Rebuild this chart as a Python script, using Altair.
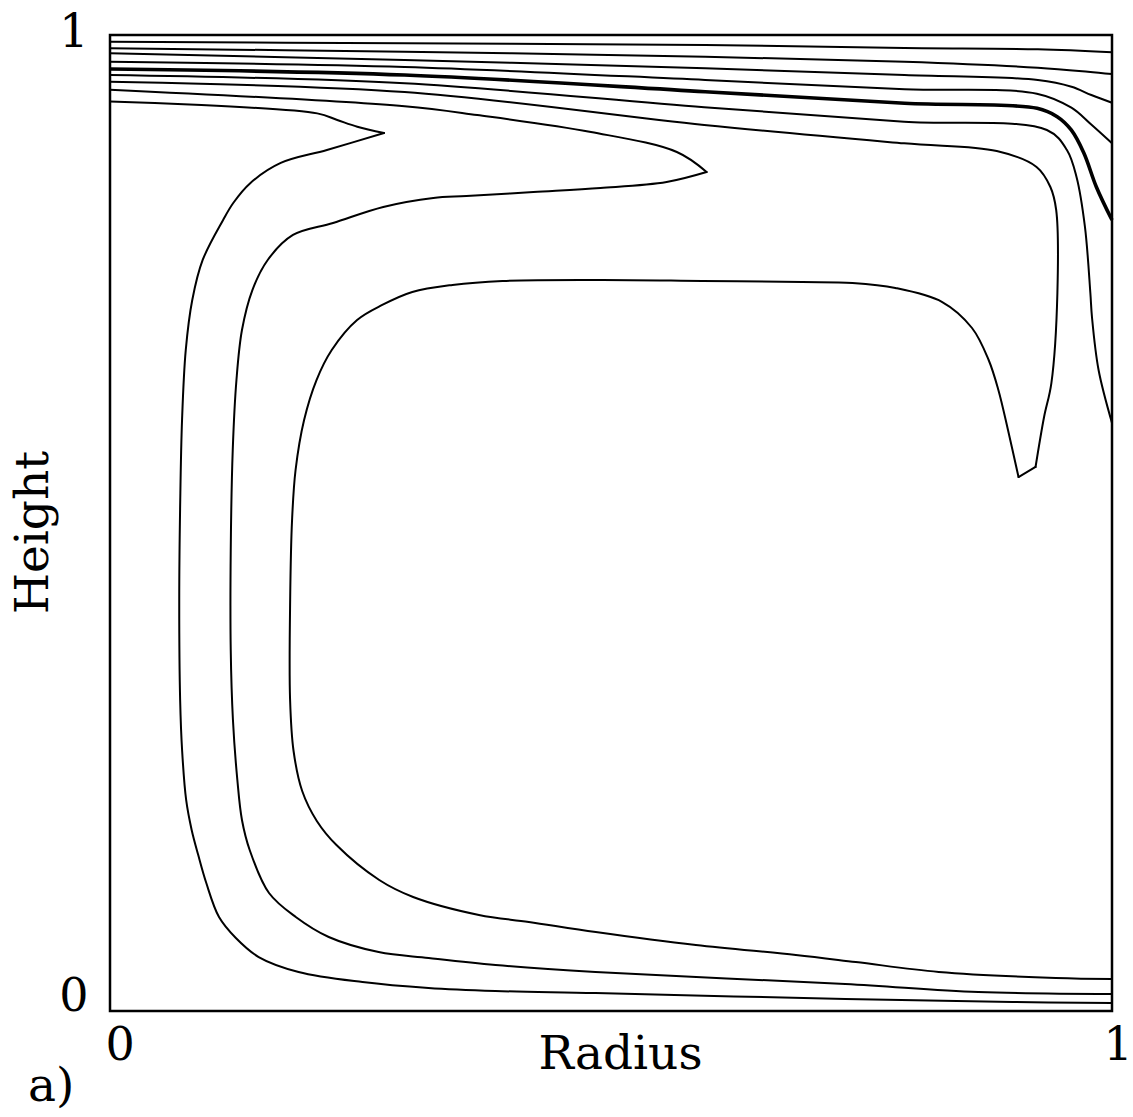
import altair as alt
import pandas as pd

# ---- contour lines (Radius, Height in 0..1) ----
L1_x = [0, 0.294, 0.594, 0.793, 0.926, 1.0]
L1_y = [0.9931, 0.9915, 0.9898, 0.9867, 0.9853, 0.9823]

L2_x = [0, 0.294, 0.594, 0.793, 0.926, 0.976, 1.0]
L2_y = [0.9864, 0.9829, 0.9778, 0.9726, 0.9665, 0.9624, 0.9600]

L3_x = [0, 0.294, 0.594, 0.793, 0.926, 0.9596, 0.9794, 1.0]
L3_y = [0.9813, 0.9744, 0.9659, 0.9590, 0.9539, 0.9470, 0.9385, 0.9306]

L4_x = [0, 0.294, 0.594, 0.793, 0.925, 0.9595, 0.979, 1.0]
L4_y = [0.9726, 0.9672, 0.9539, 0.9444, 0.9399, 0.9255, 0.9085, 0.8890]

L5_x = [0, 0.294, 0.594, 0.793, 0.9253, 0.9453, 0.9593, 0.9719, 0.9844, 1.0]
L5_y = [0.9652, 0.9590, 0.9419, 0.9300, 0.9249, 0.9163, 0.9027, 0.8791, 0.8443, 0.8104]

L6_x = [0, 0.294, 0.593, 0.7925, 0.935, 0.955, 0.9646, 0.973, 0.9784, 0.980, 0.9866, 1.0]
L6_y = [0.9590, 0.9505, 0.9259, 0.9112, 0.9027, 0.8822, 0.8545, 0.8033, 0.7357, 0.7111, 0.6568, 0.6025]

L7_x = [0, 0.294, 0.593, 0.7925, 0.885, 0.9247, 0.9385, 0.9443, 0.9455, 0.9395, 0.9322, 0.9237,
        0.9067, 0.8962, 0.8866, 0.8769, 0.8603, 0.8306, 0.7838, 0.7410, 0.6911, 0.5913,
        0.4915, 0.3917, 0.3418, 0.3017, 0.2717, 0.2466, 0.2213, 0.2061, 0.1937, 0.1852,
        0.1817, 0.1798, 0.1797, 0.1832, 0.1918, 0.2064, 0.2260, 0.2687,
        0.3025, 0.3682, 0.4180, 0.4848, 0.5847, 0.6845, 0.7443, 0.8271, 0.9439, 1.0]
L7_y = [0.9522, 0.9416, 0.9078, 0.8890, 0.8811, 0.8648, 0.8443, 0.8207, 0.7357, 0.6434, 0.6086, 0.5574,
        0.5471, 0.5953, 0.6363, 0.6670, 0.6998, 0.7264, 0.7408, 0.7459, 0.7469, 0.7480,
        0.7490, 0.7480, 0.7439, 0.7367, 0.7234, 0.7080, 0.6773, 0.6465, 0.6055, 0.5543,
        0.5031, 0.4211, 0.3197, 0.2664, 0.2254, 0.1947, 0.1700, 0.1342,
        0.1168, 0.0984, 0.0912, 0.0809, 0.0676, 0.0574, 0.0502, 0.0400, 0.0338, 0.0328]

L8_x = [0, 0.294, 0.3665, 0.4800, 0.5657, 0.5954, 0.5555, 0.4895, 0.4226, 0.3557, 0.3227,
        0.2727, 0.2226, 0.1826, 0.1574, 0.1421, 0.1317, 0.1262, 0.1225, 0.1205, 0.1205,
        0.1227, 0.1271, 0.1317, 0.1394, 0.1587, 0.1854, 0.2183, 0.2681, 0.3180, 0.3848,
        0.4845, 0.7338, 0.8666, 1.0]
L8_y = [0.9440, 0.9270, 0.9180, 0.9006, 0.8801, 0.8596, 0.8494, 0.8432, 0.8391, 0.8350, 0.8330,
        0.8238, 0.8074, 0.7951, 0.7695, 0.7387, 0.6977, 0.6465, 0.5748, 0.4723, 0.3699,
        0.2982, 0.2367, 0.1957, 0.1650, 0.1209, 0.0963, 0.0758, 0.0604, 0.0543, 0.0471,
        0.0399, 0.0277, 0.0195, 0.0174]

L9_x = [0, 0.2068, 0.2268, 0.2468, 0.2735, 0.2165, 0.1704, 0.1402, 0.1230, 0.1129, 0.0925, 0.0821,
        0.0756, 0.0719, 0.0701, 0.0691, 0.0700, 0.0720, 0.0760, 0.0815, 0.0880, 0.0961, 0.1088,
        0.1256, 0.1484, 0.1882, 0.2520, 0.3178, 0.3847, 0.4845, 0.7339, 0.9006, 1.0]
L9_y = [0.9319, 0.9197, 0.9129, 0.9060, 0.8996, 0.8822, 0.8689, 0.8484, 0.8279, 0.8105, 0.7695, 0.7285,
        0.6772, 0.6055, 0.5236, 0.4211, 0.3187, 0.2664, 0.2162, 0.1855, 0.1600, 0.1311, 0.0963,
        0.0748, 0.0553, 0.0400, 0.0297, 0.0236, 0.0205, 0.0184, 0.0123, 0.0092, 0.0082]

thin_lines = {"L1": (L1_x, L1_y), "L2": (L2_x, L2_y), "L3": (L3_x, L3_y),
              "L4": (L4_x, L4_y), "L6": (L6_x, L6_y), "L7": (L7_x, L7_y),
              "L8": (L8_x, L8_y), "L9": (L9_x, L9_y)}
thick_lines = {"L5": (L5_x, L5_y)}

# indices of sharp corners (spike tips) where the smooth curve is broken
corners = {"L9": [4], "L8": [5], "L7": [11, 12]}

tick_values = [0, 1]
x_title = "Radius"
y_title = "Height"
panel_label = ["a)"]

FONT = "DejaVu Serif"


def to_frame(lines):
    rows = []
    for name, (xs, ys) in lines.items():
        cuts = [0] + corners.get(name, []) + [len(xs) - 1]
        for s in range(len(cuts) - 1):
            for i in range(cuts[s], cuts[s + 1] + 1):
                rows.append({"line": f"{name}_{s}", "order": i, "r": xs[i], "h": ys[i]})
    return pd.DataFrame(rows)


thin_df = to_frame(thin_lines)
thick_df = to_frame(thick_lines)

xscale = alt.Scale(domain=[0, 1], nice=False, zero=False)
yscale = alt.Scale(domain=[0, 1], nice=False, zero=False)

x_axis = alt.Axis(values=tick_values, format="d", domain=False, ticks=False, grid=False,
                  labelFont=FONT, labelFontSize=46, labelColor="black", labelAlign="left",
                  labelBaseline="top", labelPadding=12,
                  labelOffset={"condition": {"test": "datum.value == 1", "value": -9}, "value": -5},
                  title=x_title, titleFont=FONT, titleFontSize=47, titleFontWeight="normal",
                  titleColor="black", titleX=510, titleY=57, titleAlign="center",
                  titleBaseline="alphabetic")
y_axis = alt.Axis(values=tick_values, format="d", domain=False, ticks=False, grid=False,
                  labelFont=FONT, labelFontSize=46, labelColor="black", labelAlign="right",
                  labelBaseline="middle", labelPadding=22,
                  labelOffset={"condition": {"test": "datum.value == 0", "value": -15}, "value": -3},
                  title=y_title, titleFont=FONT, titleFontSize=47, titleFontWeight="normal",
                  titleColor="black", titleX=-77, titleY=497, titleAngle=-90,
                  titleAlign="center", titleBaseline="middle")

thin = alt.Chart(thin_df).mark_line(color="black", strokeWidth=2, strokeJoin="round",
                                    strokeCap="round", interpolate="catmull-rom").encode(
    x=alt.X("r:Q", scale=xscale, axis=x_axis),
    y=alt.Y("h:Q", scale=yscale, axis=y_axis),
    detail="line:N",
    order="order:Q",
)
thick = alt.Chart(thick_df).mark_line(color="black", strokeWidth=3.6, strokeJoin="round",
                                      interpolate="catmull-rom").encode(
    x=alt.X("r:Q", scale=xscale),
    y=alt.Y("h:Q", scale=yscale),
    detail="line:N",
    order="order:Q",
)

label_df = pd.DataFrame({"r": [0], "h": [0], "t": panel_label})
label = alt.Chart(label_df).mark_text(font=FONT, fontSize=47, color="black", align="left",
                                      baseline="alphabetic", dx=-82, dy=90).encode(
    x=alt.X("r:Q", scale=xscale),
    y=alt.Y("h:Q", scale=yscale),
    text="t:N",
)

chart = alt.layer(thin, thick, label).properties(
    width=1002, height=976,
    autosize=alt.AutoSizeParams(type="none"),
    padding={"left": 110, "top": 35, "right": 21, "bottom": 106},
    background="white",
).configure_view(stroke="black", strokeWidth=2.5)

chart.save("out.html", embed_options={"renderer": "svg", "actions": False})
